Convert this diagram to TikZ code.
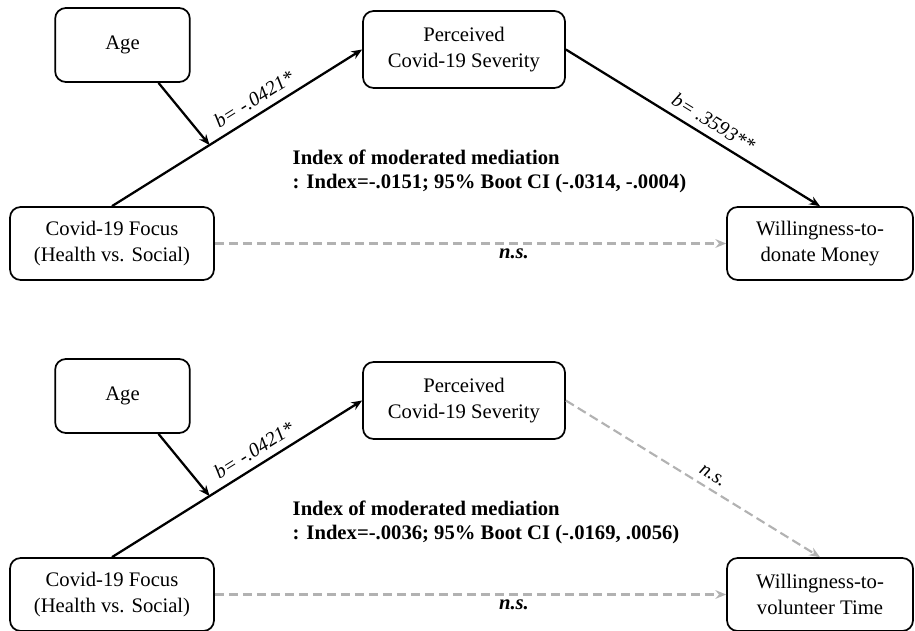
\documentclass[tikz,border=0pt]{standalone}
\usepackage{fontspec}
\setmainfont{Liberation Serif}
\usetikzlibrary{arrows.meta,calc}
\begin{document}
\begin{tikzpicture}[x=0.75pt,y=-0.75pt,
 box/.style={draw, line width=1.3pt, rounded corners=8pt, align=center, font=\fontsize{15.5}{19}\selectfont, inner sep=0pt},
 solidarrow/.style={line width=1.7pt, -{Stealth[length=8pt,width=6.5pt]}},
 nsarrow/.style={draw=black!30, line width=1.6pt, dash pattern=on 7pt off 3.5pt, -{Stealth[length=8pt,width=6.5pt]}},
 lbl/.style={font=\fontsize{15}{19}\selectfont\itshape},
 nslbl/.style={font=\fontsize{15.5}{19}\selectfont\bfseries\itshape},
 idx/.style={font=\fontsize{15.5}{17.5}\selectfont\bfseries, align=left, anchor=west}]
\useasboundingbox (0,0) rectangle (915,631);

% ---------- top panel ----------
\node[box, minimum width=101pt, minimum height=55.5pt] (a1) at (122.5,45) {Age};
\node[box, minimum width=151.5pt, minimum height=57.75pt] (p1) at (464,49.5) {Perceived\\Covid-19 Severity};
\node[box, minimum width=153pt, minimum height=54.75pt] (f1) at (112,243.5) {Covid-19 Focus\\(Health vs. Social)};
\node[box, minimum width=139.5pt, minimum height=54.75pt] (w1) at (820,243.5) {Willingness-to-\\donate Money};

\draw[solidarrow] (f1.north) -- node[lbl, sloped, above=2pt, pos=0.6] {b= -.0421*} (p1.west);
\coordinate (m1) at ($(f1.north)!0.39!(p1.west)$);
\coordinate (as1) at ($(a1.south)+(36,0)$);
\draw[solidarrow] (as1) -- (m1);
\draw[solidarrow] (p1.east) -- node[lbl, sloped, above=2pt, pos=0.55] {b= .3593**} (w1.north);
\draw[nsarrow] (f1.east) -- node[nslbl, below, pos=0.585] {n.s.} (w1.west);
\node[idx] (i1) at (288,171.5) {Index of moderated mediation\\: Index=-.0151; 95\% Boot CI (-.0314, -.0004)};

% ---------- bottom panel ----------
\node[box, minimum width=101pt, minimum height=55.5pt] (a2) at (122.5,396) {Age};
\node[box, minimum width=151.5pt, minimum height=57.75pt] (p2) at (464,400.5) {Perceived\\Covid-19 Severity};
\node[box, minimum width=153pt, minimum height=54.75pt] (f2) at (112,594.5) {Covid-19 Focus\\(Health vs. Social)};
\node[box, minimum width=139.5pt, minimum height=54.75pt] (w2) at (820,594.5) {Willingness-to-\\volunteer Time};

\draw[solidarrow] (f2.north) -- node[lbl, sloped, above=2pt, pos=0.6] {b= -.0421*} (p2.west);
\coordinate (m2) at ($(f2.north)!0.39!(p2.west)$);
\coordinate (as2) at ($(a2.south)+(36,0)$);
\draw[solidarrow] (as2) -- (m2);
\draw[nsarrow] (p2.east) -- node[lbl, sloped, above=2pt, pos=0.55] {n.s.} (w2.north);
\draw[nsarrow] (f2.east) -- node[nslbl, below, pos=0.585] {n.s.} (w2.west);
\node[idx] (i2) at (288,522.5) {Index of moderated mediation\\: Index=-.0036; 95\% Boot CI (-.0169, .0056)};
\end{tikzpicture}
\end{document}
